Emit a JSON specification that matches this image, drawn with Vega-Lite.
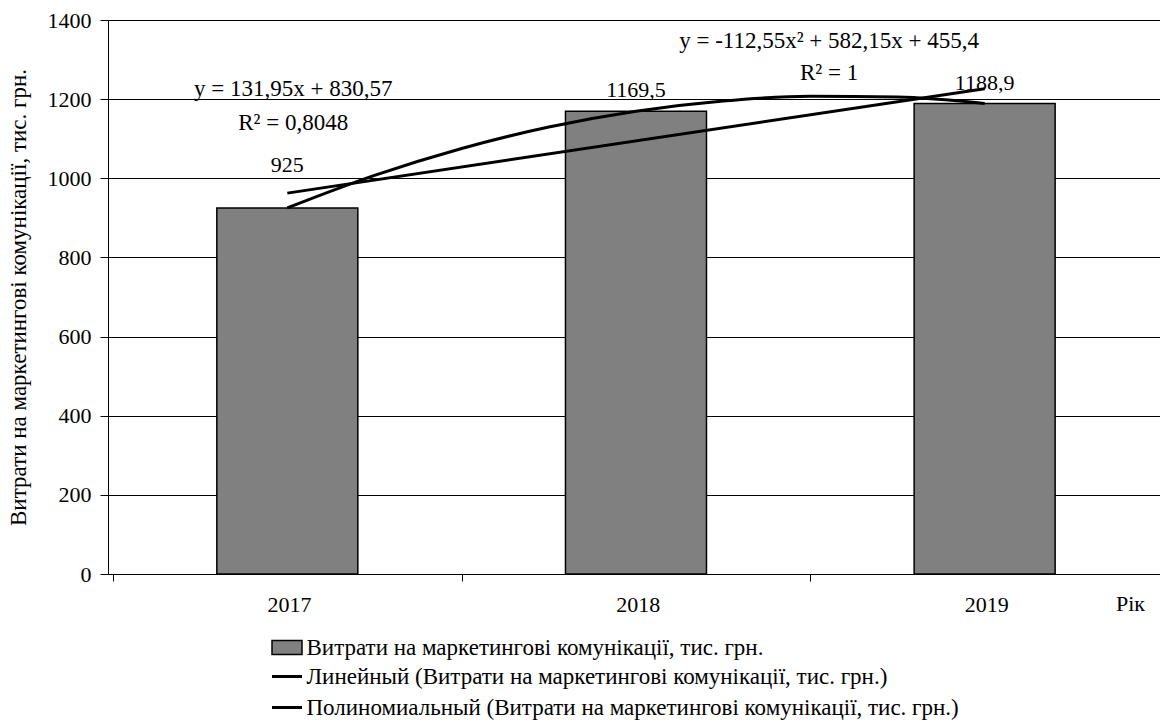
{
  "$schema": "https://vega.github.io/schema/vega-lite/v6.json",
  "autosize": "none",
  "width": 1052,
  "height": 554,
  "padding": {"left": 108, "top": 20, "right": 0, "bottom": 146},
  "background": "white",
  "config": {
    "font": "Liberation Serif",
    "view": {"stroke": null},
    "locale": {"number": {"decimal": ",", "thousands": " ", "grouping": [3], "currency": ["", ""]}},
    "axis": {"labelFont": "Liberation Serif", "titleFont": "Liberation Serif", "titleFontWeight": "normal"},
    "legend": {"labelFont": "Liberation Serif"}
  },
  "datasets": {
    "bars": [
      {"year": 2017, "value": 925, "series": "Витрати на маркетингові комунікації, тис. грн."},
      {"year": 2018, "value": 1169.5, "series": "Витрати на маркетингові комунікації, тис. грн."},
      {"year": 2019, "value": 1188.9, "series": "Витрати на маркетингові комунікації, тис. грн."}
    ],
    "linear": [
      {"year": 2017, "value": 962.52, "series": "Линейный (Витрати на маркетингові комунікації, тис. грн.)"},
      {"year": 2019, "value": 1226.42, "series": "Линейный (Витрати на маркетингові комунікації, тис. грн.)"}
    ],
    "poly": [
      {"year": 2017, "value": 925.0, "series": "Полиномиальный (Витрати на маркетингові комунікації, тис. грн.)"},
      {"year": 2017.25, "value": 1007.2, "series": "Полиномиальный (Витрати на маркетингові комунікації, тис. грн.)"},
      {"year": 2017.5, "value": 1075.4, "series": "Полиномиальный (Витрати на маркетингові комунікації, тис. грн.)"},
      {"year": 2017.75, "value": 1129.5, "series": "Полиномиальный (Витрати на маркетингові комунікації, тис. грн.)"},
      {"year": 2018, "value": 1169.5, "series": "Полиномиальный (Витрати на маркетингові комунікації, тис. грн.)"},
      {"year": 2018.25, "value": 1195.5, "series": "Полиномиальный (Витрати на маркетингові комунікації, тис. грн.)"},
      {"year": 2018.5, "value": 1207.3, "series": "Полиномиальный (Витрати на маркетингові комунікації, тис. грн.)"},
      {"year": 2018.75, "value": 1205.2, "series": "Полиномиальный (Витрати на маркетингові комунікації, тис. грн.)"},
      {"year": 2019, "value": 1188.9, "series": "Полиномиальный (Витрати на маркетингові комунікації, тис. грн.)"}
    ],
    "notes": [
      {"year": 2017.017, "value": 1208, "text": "y = 131,95x + 830,57"},
      {"year": 2017.017, "value": 1122, "text": "R² = 0,8048"},
      {"year": 2018.554, "value": 1329, "text": "y = -112,55x² + 582,15x + 455,4"},
      {"year": 2018.554, "value": 1248, "text": "R² = 1"}
    ]
  },
  "encoding": {
    "x": {
      "field": "year", "type": "quantitative",
      "scale": {"domain": [2016.5, 2019.48864], "nice": false, "zero": false},
      "axis": {
        "values": [2016.5, 2017.5, 2018.5],
        "labelExpr": "format(datum.value + 0.5, 'd')",
        "labelOffset": 176,
        "labelOverlap": false,
        "labelFlush": false,
        "labelBound": false,
        "labelFont": "Liberation Serif",
        "labelFontSize": 22,
        "labelColor": "black",
        "labelPadding": 13,
        "grid": false,
        "tickSize": 7,
        "tickColor": "black",
        "domainColor": "black",
        "title": "Рік",
        "titleFont": "Liberation Serif",
        "titleFontWeight": "normal",
        "titleColor": "black",
        "titleFontSize": 22,
        "titleX": 1022,
        "titleY": 36,
        "titleAlign": "center",
        "titleBaseline": "alphabetic"
      }
    },
    "y": {
      "field": "value", "type": "quantitative",
      "scale": {"domain": [0, 1400], "nice": false},
      "axis": {
        "values": [0, 200, 400, 600, 800, 1000, 1200, 1400],
        "format": "d",
        "grid": true,
        "gridColor": "black",
        "gridWidth": 1,
        "gridOpacity": 1,
        "domainColor": "black",
        "tickColor": "black",
        "tickSize": 8,
        "labelFont": "Liberation Serif",
        "labelFontSize": 22,
        "labelColor": "black",
        "labelPadding": 9,
        "title": "Витрати на маркетингові комунікації, тис. грн.",
        "titleFont": "Liberation Serif",
        "titleFontWeight": "normal",
        "titleColor": "black",
        "titleFontSize": 23,
        "titlePadding": 17
      }
    }
  },
  "layer": [
    {
      "data": {"name": "bars"},
      "mark": {"type": "bar", "size": 141, "stroke": "black", "strokeWidth": 1.5},
      "encoding": {
        "fill": {
          "field": "series", "type": "nominal",
          "scale": {"domain": ["Витрати на маркетингові комунікації, тис. грн."], "range": ["#808080"]},
          "legend": {
            "orient": "none",
            "legendX": 167.5,
            "legendY": 616,
            "direction": "vertical",
            "title": null,
            "padding": 0,
            "labelFont": "Liberation Serif",
            "labelFontSize": 23,
            "labelColor": "black",
            "labelLimit": 1000,
            "labelOffset": 8,
            "labelBaseline": "middle",
            "symbolType": "M-2,-0.93H2V0.93H-2Z",
            "symbolSize": 225,
            "symbolStrokeColor": "black",
            "symbolStrokeWidth": 1.5,
            "symbolOpacity": 1
          }
        }
      }
    },
    {
      "data": {"name": "linear"},
      "mark": {"type": "line", "strokeWidth": 3},
      "encoding": {
        "stroke": {
          "field": "series", "type": "nominal",
          "scale": {
            "domain": [
              "Линейный (Витрати на маркетингові комунікації, тис. грн.)",
              "Полиномиальный (Витрати на маркетингові комунікації, тис. грн.)"
            ],
            "range": ["black", "black"]
          },
          "legend": {
            "orient": "none",
            "legendX": 167.5,
            "legendY": 645,
            "direction": "vertical",
            "title": null,
            "padding": 0,
            "labelFont": "Liberation Serif",
            "labelFontSize": 23,
            "labelColor": "black",
            "labelLimit": 1000,
            "labelOffset": 8,
            "labelBaseline": "middle",
            "symbolType": "M-2,0H2",
            "symbolSize": 225,
            "symbolStrokeWidth": 3,
            "symbolOpacity": 1,
            "rowPadding": 7
          }
        }
      }
    },
    {
      "data": {"name": "poly"},
      "mark": {"type": "line", "strokeWidth": 3, "interpolate": "monotone"},
      "encoding": {"stroke": {"field": "series", "type": "nominal", "legend": null}}
    },
    {
      "data": {"name": "bars"},
      "transform": [{"filter": "datum.year == 2017"}],
      "mark": {"type": "text", "fontSize": 22, "baseline": "alphabetic", "dy": -36, "color": "black"},
      "encoding": {"text": {"field": "value", "type": "quantitative", "format": "~r"}}
    },
    {
      "data": {"name": "bars"},
      "transform": [{"filter": "datum.year != 2017"}],
      "mark": {"type": "text", "fontSize": 22, "baseline": "alphabetic", "dy": -14, "color": "black"},
      "encoding": {"text": {"field": "value", "type": "quantitative", "format": "~r"}}
    },
    {
      "data": {"name": "notes"},
      "mark": {"type": "text", "fontSize": 23, "baseline": "alphabetic", "color": "black"},
      "encoding": {"text": {"field": "text", "type": "nominal"}}
    }
  ]
}
